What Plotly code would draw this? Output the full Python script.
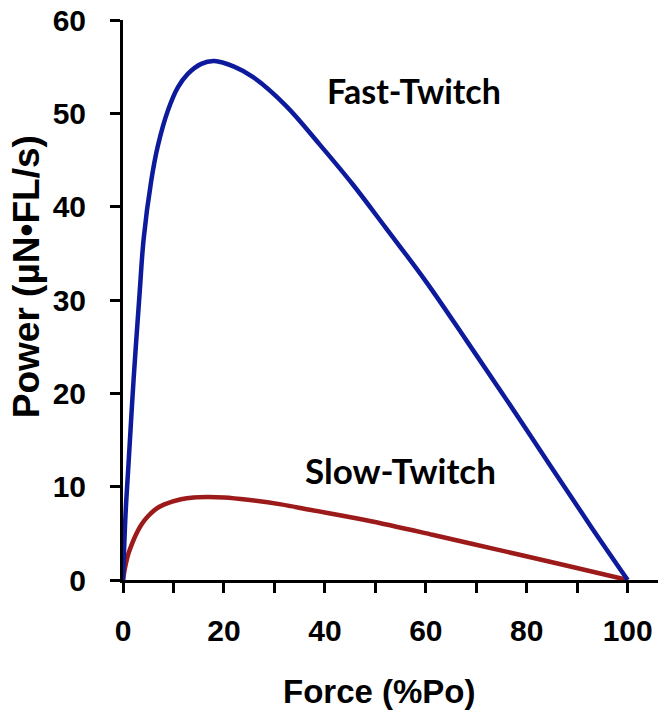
import plotly.graph_objects as go

# Fast-twitch power curve (Force %Po vs Power)
fast_force = [0, 0.5, 1.1, 2.1, 3.3, 4.1, 5.6, 6.9, 8.9, 10.9, 12.8, 15.5, 18.1, 22.0, 25.7, 32.3, 38.9, 45.5, 52.1, 60.0, 68.0, 76.5, 85.1, 93.0, 100]
fast_power = [0, 7.0, 12.5, 21.5, 30.8, 36.6, 42.8, 46.5, 50.3, 52.8, 54.2, 55.3, 55.6, 55.0, 53.9, 50.8, 46.7, 42.4, 37.7, 32.0, 25.7, 18.9, 11.9, 5.5, 0]

# Slow-twitch power curve
slow_force = [0, 0.4, 1.0, 1.8, 2.6, 3.6, 4.9, 6.5, 8.2, 11.5, 14.0, 16.8, 20.0, 24.7, 31.3, 37.3, 48.2, 61.3, 74.6, 87.8, 100]
slow_power = [0, 1.3, 2.7, 3.9, 4.9, 5.9, 6.8, 7.6, 8.1, 8.65, 8.85, 8.9, 8.85, 8.6, 8.1, 7.5, 6.4, 4.85, 3.2, 1.55, 0]

x_ticks = [0, 10, 20, 30, 40, 50, 60, 70, 80, 90, 100]
x_tick_text = ["0", "", "20", "", "40", "", "60", "", "80", "", "100"]
y_ticks = [0, 10, 20, 30, 40, 50, 60]

BLUE = "#0c1a9b"
RED = "#9c1a1a"

fig = go.Figure()
fig.add_trace(go.Scatter(x=slow_force, y=slow_power, mode="lines",
                         line=dict(color=RED, width=4.5, shape="spline", smoothing=1.0),
                         showlegend=False))
fig.add_trace(go.Scatter(x=fast_force, y=fast_power, mode="lines",
                         line=dict(color=BLUE, width=4.5, shape="spline", smoothing=1.0),
                         showlegend=False))

tickfont = dict(family="Liberation Sans, Arial", size=30, color="black", weight="bold")

fig.update_layout(
    width=661, height=710,
    margin=dict(l=123, r=3, t=20, b=130),
    paper_bgcolor="white", plot_bgcolor="white",
    xaxis=dict(range=[0, 106], tickvals=x_ticks, ticktext=x_tick_text,
               showline=True, linecolor="black", linewidth=3,
               ticks="outside", ticklen=10, tickwidth=3, tickcolor="black",
               showgrid=False, zeroline=False, tickfont=tickfont,
               ticklabelstandoff=12, automargin=False, ticklabeloverflow="allow"),
    yaxis=dict(range=[0, 60], tickvals=y_ticks,
               showline=True, linecolor="black", linewidth=3,
               ticks="outside", ticklen=10, tickwidth=3, tickcolor="black",
               showgrid=False, zeroline=False, tickfont=tickfont,
               ticklabelstandoff=18, automargin=False, ticklabeloverflow="allow"),
    annotations=[
        dict(text="Power (µN•FL/s)", xref="paper", yref="paper", x=-0.1805, y=0.5415,
             xanchor="center", yanchor="middle", textangle=-90, showarrow=False,
             font=dict(family="Liberation Sans, Arial", size=37, color="black", weight="bold")),
        dict(text="Force (%Po)", xref="paper", yref="paper", x=0.48, y=-0.199,
             xanchor="center", yanchor="middle", showarrow=False,
             font=dict(family="Liberation Sans, Arial", size=33, color="black", weight="bold")),
        dict(text="Fast-Twitch", x=57.7, y=52.4, xref="x", yref="y",
             xanchor="center", yanchor="middle", showarrow=False,
             font=dict(family="Lato", size=34, color="black", weight="bold")),
        dict(text="Slow-Twitch", x=54.9, y=11.8, xref="x", yref="y",
             xanchor="center", yanchor="middle", showarrow=False,
             font=dict(family="Lato", size=35, color="black", weight="bold")),
    ],
)

fig.write_html("out.html", config={"displayModeBar": False},
               post_script="document.body.style.margin='0px';")
